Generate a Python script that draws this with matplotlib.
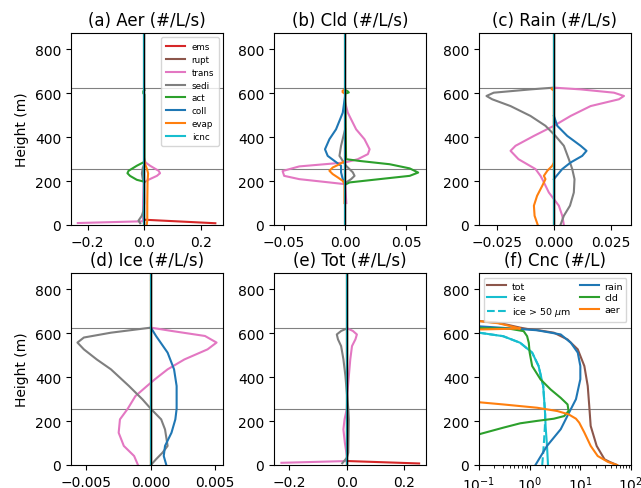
import matplotlib
matplotlib.use('Agg')
import matplotlib.pyplot as plt

# ---------------- data ----------------
H_TOP = 875
CLOUD_TOP = 626
CLOUD_BASE = 255
ZERO_H = [0, 875]
ZERO_X = [0, 0]

# (a) Aer
a_ems_h = [8, 24]
a_ems_x = [0.25, 0.0]
a_trans_h = [9, 17, 30, 100, 190, 197, 206, 224, 236, 247, 270, 285, 300]
a_trans_x = [-0.235, -0.004, -0.005, -0.005, -0.003, 0.002, 0.014, 0.044, 0.055, 0.05, 0.02, 0.004, 0.0]
a_sedi_h = [8, 20, 42, 65, 100, 190, 210, 235, 260, 280]
a_sedi_x = [-0.015, -0.021, -0.0094, -0.0035, -0.001, -0.001, -0.006, -0.009, -0.006, 0.0]
a_act_h = [197, 206, 224, 236, 247, 270, 288, 595, 600, 610, 615]
a_act_x = [0.0, -0.027, -0.051, -0.06, -0.056, -0.027, 0.0, 0.0, -0.004, -0.004, 0.0]
a_evap_h = [0, 20, 100, 200, 235, 255, 275, 290]
a_evap_x = [0.008, 0.01, 0.01, 0.011, 0.013, 0.009, 0.003, 0.0]

# (b) Cld
b_trans_h = [100, 186, 194, 209, 224, 246, 267, 285, 300, 323, 345, 391, 436, 512, 560]
b_trans_x = [0.001, 0.0, -0.0128, -0.0374, -0.0497, -0.051, -0.0374, 0.0, 0.0104, 0.0186, 0.02, 0.0158, 0.009, 0.0022, 0.0]
b_sedi_h = [186, 194, 209, 224, 240, 270, 292, 315, 361, 436]
b_sedi_x = [0.0, 0.0008, 0.0049, 0.0077, 0.0063, 0.0008, -0.0019, -0.0046, -0.0033, 0.0]
b_act_h = [186, 194, 209, 224, 239, 258, 277, 292, 300, 598, 604, 610, 616]
b_act_x = [0.0008, 0.0036, 0.028, 0.0527, 0.0596, 0.0527, 0.0363, 0.0117, 0.0008, 0.0, 0.003, 0.002, 0.0]
b_coll_h = [186, 209, 240, 270, 292, 315, 345, 391, 436, 512, 588]
b_coll_x = [0.0, -0.0019, -0.0033, -0.0033, -0.0087, -0.0142, -0.0164, -0.0128, -0.0074, -0.0019, 0.0]
b_evap_h = [100, 186, 201, 217, 232, 247, 262, 277, 292, 598, 605, 612, 618]
b_evap_x = [-0.0005, -0.0005, -0.0019, -0.006, -0.0101, -0.0128, -0.0101, -0.0046, 0.0, 0.0, -0.002, -0.002, 0.0]

# (c) Rain
c_trans_h = [0, 42, 88, 148, 209, 224, 255, 300, 338, 361, 406, 452, 497, 542, 573, 588, 603, 618, 626]
c_trans_x = [0.0044, 0.0037, 0.0022, -0.0022, -0.0051, -0.0059, -0.0081, -0.0156, -0.0191, -0.0169, -0.0088, 0.0, 0.0074, 0.0162, 0.0287, 0.0309, 0.0265, 0.0118, 0.0]
c_sedi_h = [0, 42, 88, 148, 209, 255, 300, 361, 406, 452, 497, 542, 573, 588, 603, 618, 626]
c_sedi_x = [0.0029, 0.0044, 0.0071, 0.0088, 0.0091, 0.0081, 0.0066, 0.0044, 0.0007, -0.0037, -0.0103, -0.0191, -0.0272, -0.0297, -0.0265, -0.0103, 0.0]
c_coll_h = [209, 224, 255, 285, 315, 338, 361, 406, 452, 497]
c_coll_x = [0.0, 0.0012, 0.0037, 0.0074, 0.0125, 0.0144, 0.0118, 0.0059, 0.0015, 0.0]
c_evap_h = [0, 42, 88, 133, 179, 209, 224, 247, 270, 285, 612, 620, 626]
c_evap_x = [-0.0071, -0.0085, -0.0088, -0.0074, -0.0051, -0.0037, -0.0044, -0.0029, -0.0007, 0.0, 0.0, -0.001, 0.0]

# (d) Ice
d_trans_h = [0, 41, 87, 147, 208, 256, 314, 360, 390, 436, 481, 527, 558, 588, 611, 626]
d_trans_x = [-0.0010, -0.0013, -0.0021, -0.0025, -0.0024, -0.0018, -0.0012, -0.0003, 0.0003, 0.0013, 0.0026, 0.0044, 0.0051, 0.0042, 0.0016, 0.0]
d_sedi_h = [0, 26, 56, 87, 162, 208, 256, 299, 360, 436, 481, 527, 558, 581, 603, 626]
d_sedi_x = [0.0, 0.0004, 0.0009, 0.0013, 0.0011, 0.0008, 0.0, -0.00065, -0.0017, -0.0031, -0.0042, -0.0052, -0.0057, -0.0052, -0.0031, 0.0]
d_coll_h = [0, 41, 87, 147, 208, 256, 360, 436, 512, 588, 626]
d_coll_x = [0.0012, 0.0010, 0.0011, 0.0016, 0.0019, 0.0020, 0.0020, 0.0018, 0.0013, 0.0004, 0.0]

# (e) Tot
e_ems_h = [7, 18]
e_ems_x = [0.252, 0.003]
e_trans_h = [10, 18, 41, 102, 162, 208, 256, 330, 406, 482, 542, 573, 595, 611, 622]
e_trans_x = [-0.228, 0.0, 0.0, -0.007, -0.012, -0.008, 0.0, 0.002, 0.007, 0.012, 0.018, 0.03, 0.035, 0.021, 0.003]
e_sedi_h = [8, 33, 56, 132, 208, 256, 330, 406, 482, 542, 573, 595, 611, 622]
e_sedi_x = [-0.016, 0.0, 0.005, 0.006, 0.007, 0.005, 0.0, -0.005, -0.012, -0.02, -0.031, -0.035, -0.0197, 0.0]

# (f) Cnc (#/L)
f_tot_h = [0, 14, 26, 87, 178, 269, 360, 451, 527, 572, 603, 614, 620, 626, 640, 649, 656]
f_tot_x = [53, 38, 30, 21, 16, 15, 14, 12, 8.9, 5.6, 3.0, 1.5, 0.9, 0.65, 0.35, 0.22, 0.1]
f_ice_h = [0, 87, 178, 230, 269, 360, 451, 512, 557, 587, 603]
f_ice_x = [2.3, 2.2, 2.06, 2.02, 1.97, 1.85, 1.5, 1.12, 0.65, 0.3, 0.1]
f_ice50_h = [0, 56, 117, 178, 230, 269, 360, 451, 512, 557, 587, 603]
f_ice50_x = [1.77, 1.85, 1.93, 2.0, 2.02, 1.97, 1.85, 1.5, 1.12, 0.65, 0.3, 0.1]
f_rain_h = [0, 87, 163, 239, 300, 391, 451, 512, 557, 595, 614, 625, 632]
f_rain_x = [1.3, 2.2, 4.1, 6.0, 8.2, 10, 10, 8.9, 6.5, 4.1, 1.4, 0.3, 0.1]
f_cld_h = [100, 140, 170, 190, 201, 211, 223, 246, 276, 306, 344, 390, 451, 512, 557, 587, 610, 621, 624]
f_cld_x = [0.03, 0.1, 0.3, 0.65, 1.4, 3.0, 4.8, 5.85, 5.6, 4.1, 2.6, 1.64, 1.12, 1.0, 0.96, 0.89, 0.76, 0.4, 0.1]
f_aer_h = [0, 14, 41, 87, 148, 193, 211, 231, 246, 261, 276, 286, 300, 615, 620, 622, 626, 646, 656]
f_aer_x = [53, 35, 22, 16, 12, 9.5, 8.2, 5.85, 3.5, 1.4, 0.3, 0.1, 0.03, 0.03, 0.3, 0.65, 0.55, 0.24, 0.1]

PROC_NAMES = ['ems', 'rupt', 'trans', 'sedi', 'act', 'coll', 'evap', 'icnc']
PROC_COLORS = ['tab:red', 'tab:brown', 'tab:pink', 'tab:gray',
               'tab:green', 'tab:blue', 'tab:orange', 'tab:cyan']

# ---------------- figure ----------------
W, H = 641, 489
fig = plt.figure(figsize=(W / 100, H / 100), dpi=100)


def rect(l, t, w=152, h=192):
    return [l / W, (H - t - h) / H, w / W, h / H]


def proc_panel(ax, series, title, xlim, xticks, legend=False):
    for name, color in zip(PROC_NAMES, PROC_COLORS):
        if name in series:
            hs, xs = series[name]
        else:
            hs, xs = ZERO_H, ZERO_X
        ax.plot(xs, hs, color=color, lw=1.5, label=name, zorder=2)
    ax.axvline(0, color='k', lw=1.0, zorder=2.5)
    ax.axhline(CLOUD_TOP, color='gray', lw=0.8, zorder=1)
    ax.axhline(CLOUD_BASE, color='gray', lw=0.8, zorder=1)
    ax.set_xlim(*xlim)
    ax.set_xticks(xticks)
    ax.set_ylim(0, H_TOP)
    ax.set_yticks([0, 200, 400, 600, 800])
    ax.set_title(title, fontsize=12)
    if legend:
        ax.legend(loc='upper right', fontsize=6.3, handlelength=2.2,
                  labelspacing=0.45, borderpad=0.5)


ax_a = fig.add_axes(rect(71, 34))
proc_panel(ax_a, {'ems': (a_ems_h, a_ems_x), 'trans': (a_trans_h, a_trans_x),
                  'sedi': (a_sedi_h, a_sedi_x), 'act': (a_act_h, a_act_x),
                  'evap': (a_evap_h, a_evap_x)},
           '(a) Aer (#/L/s)', (-0.259, 0.277), [-0.2, 0.0, 0.2], legend=True)
ax_a.set_ylabel('Height (m)')

ax_b = fig.add_axes(rect(274, 34))
proc_panel(ax_b, {'trans': (b_trans_h, b_trans_x), 'sedi': (b_sedi_h, b_sedi_x),
                  'act': (b_act_h, b_act_x), 'coll': (b_coll_h, b_coll_x),
                  'evap': (b_evap_h, b_evap_x)},
           '(b) Cld (#/L/s)', (-0.058, 0.066), [-0.05, 0.0, 0.05])

ax_c = fig.add_axes(rect(479, 34))
proc_panel(ax_c, {'trans': (c_trans_h, c_trans_x), 'sedi': (c_sedi_h, c_sedi_x),
                  'coll': (c_coll_h, c_coll_x), 'evap': (c_evap_h, c_evap_x)},
           '(c) Rain (#/L/s)', (-0.033, 0.034), [-0.025, 0.0, 0.025])

ax_d = fig.add_axes(rect(71, 274))
proc_panel(ax_d, {'trans': (d_trans_h, d_trans_x), 'sedi': (d_sedi_h, d_sedi_x),
                  'coll': (d_coll_h, d_coll_x)},
           '(d) Ice (#/L/s)', (-0.0062, 0.0056), [-0.005, 0.0, 0.005])
ax_d.set_ylabel('Height (m)')

ax_e = fig.add_axes(rect(274, 274))
proc_panel(ax_e, {'ems': (e_ems_h, e_ems_x), 'trans': (e_trans_h, e_trans_x),
                  'sedi': (e_sedi_h, e_sedi_x)},
           '(e) Tot (#/L/s)', (-0.254, 0.276), [-0.2, 0.0, 0.2])

ax_f = fig.add_axes(rect(479, 274))
ax_f.plot(f_tot_x, f_tot_h, color='tab:brown', lw=1.5, label='tot')
ax_f.plot(f_ice_x, f_ice_h, color='tab:cyan', lw=1.5, label='ice')
ax_f.plot(f_ice50_x, f_ice50_h, color='tab:cyan', lw=1.5, ls='--',
          label=r'ice > 50 $\mu$m')
ax_f.plot(f_rain_x, f_rain_h, color='tab:blue', lw=1.5, label='rain')
ax_f.plot(f_cld_x, f_cld_h, color='tab:green', lw=1.5, label='cld')
ax_f.plot(f_aer_x, f_aer_h, color='tab:orange', lw=1.5, label='aer')
ax_f.axhline(CLOUD_TOP, color='gray', lw=0.8, zorder=1)
ax_f.axhline(CLOUD_BASE, color='gray', lw=0.8, zorder=1)
ax_f.set_xscale('log')
ax_f.set_xlim(0.1, 100)
ax_f.set_ylim(0, H_TOP)
ax_f.set_yticks([0, 200, 400, 600, 800])
ax_f.set_title('(f) Cnc (#/L)', fontsize=12)
ax_f.legend(loc='upper center', ncol=2, fontsize=6.8, handlelength=2.0,
            columnspacing=0.9, labelspacing=0.3, borderpad=0.4,
            handletextpad=0.6)

fig.savefig('out.png', dpi=100)
